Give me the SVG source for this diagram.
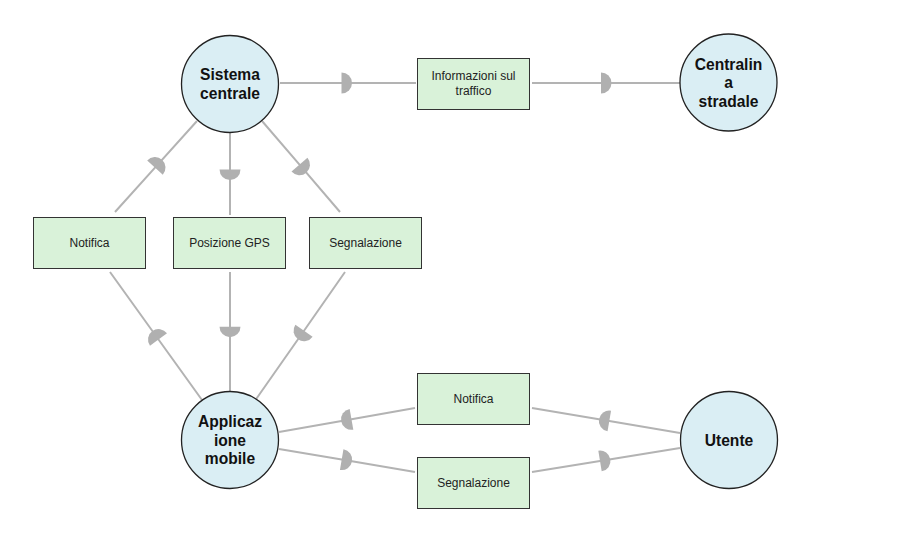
<svg xmlns="http://www.w3.org/2000/svg" width="902" height="544" viewBox="0 0 902 544">
  <style>
    .bg { fill: #ffffff; }
    .conn { fill: none; stroke: #b3b3b3; stroke-width: 2; marker-mid: url(#hc); }
    .circ { fill: #daeef4; stroke: #222222; stroke-width: 1.3; }
    .box { fill: #d9f2d9; stroke: #333333; stroke-width: 1; }
    .ct { font-family: "Liberation Sans", Arial, sans-serif; font-size: 15.6px; font-weight: bold; fill: #111111; text-anchor: middle; }
    .bt { font-family: "Liberation Sans", Arial, sans-serif; font-size: 12px; fill: #222222; text-anchor: middle; }
  </style>
  <defs>
    <marker id="hc" viewBox="-1 -12 14 24" refX="0" refY="0" markerWidth="14" markerHeight="24" orient="auto" markerUnits="userSpaceOnUse" overflow="visible">
      <path d="M0,-10.5 A10.5,10.5 0 0 1 0,10.5 Z" fill="#b0b0b0"/>
    </marker>
  </defs>
  <rect class="bg" x="0" y="0" width="902" height="544"/>

  <g id="connectors">
    <path id="e-sis-info" class="conn" d="M280,83 L341.5,83 L416,83"/>
    <path id="e-info-cen" class="conn" d="M532,83 L601,83 L680,83"/>
    <path id="e-not1-sis" class="conn" d="M115,212 L155,167.6 L197,121"/>
    <path id="e-sis-gps" class="conn" d="M230,133 L230,169.5 L230,215"/>
    <path id="e-sis-seg1" class="conn" d="M262,121 L299.5,164.7 L340,212"/>
    <path id="e-app-not1" class="conn" d="M202,400 L158.5,339.5 L110,272"/>
    <path id="e-gps-app" class="conn" d="M230,272 L230,326.7 L230,391"/>
    <path id="e-seg1-app" class="conn" d="M345,272 L304,330.7 L256,399.3"/>
    <path id="e-not2-app" class="conn" d="M415,408 L351.5,419.3 L279,432"/>
    <path id="e-app-seg2" class="conn" d="M279,449 L341.7,459.6 L415,472"/>
    <path id="e-ute-not2" class="conn" d="M680,433 L609.3,421 L532,408"/>
    <path id="e-seg2-ute" class="conn" d="M532,472 L600,461 L680,448"/>
  </g>

  <g id="sistema-centrale">
    <circle class="circ" cx="230" cy="84" r="48.5"/>
    <text class="ct" x="230" y="80.3">Sistema</text>
    <text class="ct" x="230" y="98.8">centrale</text>
  </g>

  <g id="centralina-stradale">
    <circle class="circ" cx="728.5" cy="82.5" r="48.5"/>
    <text class="ct" x="728.5" y="69.5">Centralin</text>
    <text class="ct" x="728.5" y="88">a</text>
    <text class="ct" x="728.5" y="106.5">stradale</text>
  </g>

  <g id="applicazione-mobile">
    <circle class="circ" cx="230" cy="440" r="48.5"/>
    <text class="ct" x="230" y="427">Applicaz</text>
    <text class="ct" x="230" y="445.5">ione</text>
    <text class="ct" x="230" y="464">mobile</text>
  </g>

  <g id="utente">
    <circle class="circ" cx="729" cy="440" r="48.5"/>
    <text class="ct" x="729" y="445.5">Utente</text>
  </g>

  <g id="informazioni-traffico">
    <rect class="box" x="417.5" y="58.5" width="112" height="51"/>
    <text class="bt" x="473.5" y="79.5">Informazioni sul</text>
    <text class="bt" x="473.5" y="95">traffico</text>
  </g>

  <g id="notifica-1">
    <rect class="box" x="33.5" y="217.5" width="112" height="51"/>
    <text class="bt" x="89.5" y="247">Notifica</text>
  </g>

  <g id="posizione-gps">
    <rect class="box" x="173.5" y="217.5" width="112" height="51"/>
    <text class="bt" x="229.5" y="247">Posizione GPS</text>
  </g>

  <g id="segnalazione-1">
    <rect class="box" x="309.5" y="217.5" width="112" height="51"/>
    <text class="bt" x="365.5" y="247">Segnalazione</text>
  </g>

  <g id="notifica-2">
    <rect class="box" x="417.5" y="373.5" width="112" height="51"/>
    <text class="bt" x="473.5" y="403">Notifica</text>
  </g>

  <g id="segnalazione-2">
    <rect class="box" x="417.5" y="457.5" width="112" height="51"/>
    <text class="bt" x="473.5" y="487">Segnalazione</text>
  </g>
</svg>
